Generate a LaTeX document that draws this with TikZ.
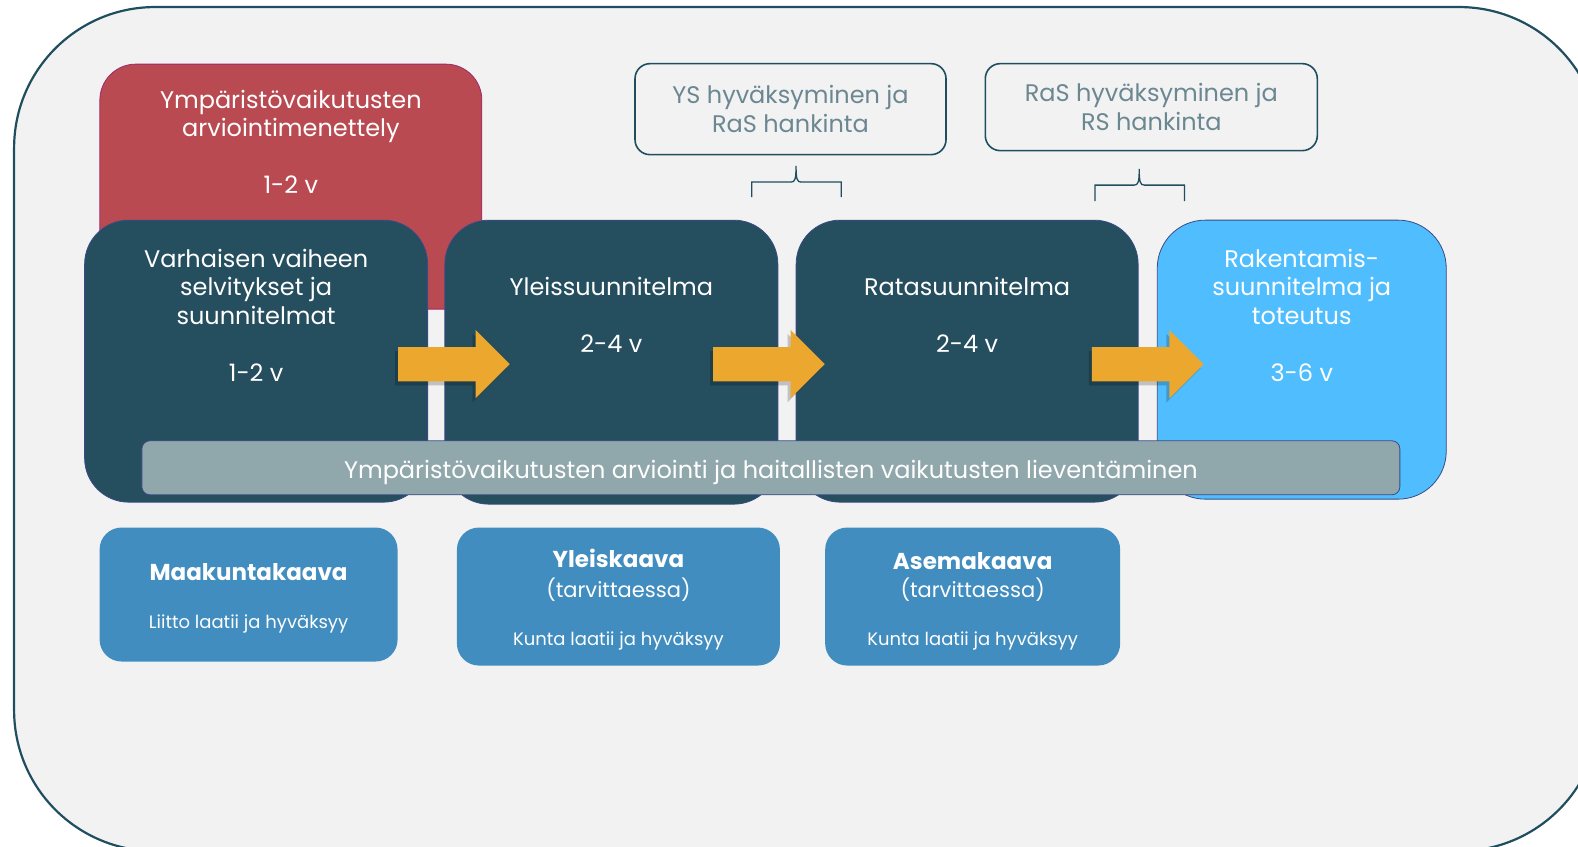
\documentclass[tikz,border=0pt]{standalone}
\usepackage{fontspec}
\setmainfont{Poppins}
\usepackage{tikz}
\usetikzlibrary{positioning}
\definecolor{bgfill}{HTML}{F2F2F2}
\definecolor{frameteal}{HTML}{1F4E5F}
\definecolor{phasedark}{HTML}{254E5E}
\definecolor{evared}{HTML}{B94A51}
\definecolor{evaedge}{HTML}{9C2A6E}
\definecolor{buildblue}{HTML}{50BEFE}
\definecolor{planblue}{HTML}{418DC0}
\definecolor{bargray}{HTML}{90A7AC}
\definecolor{arroworange}{HTML}{EBA72E}
\definecolor{notegray}{HTML}{6B8791}
\definecolor{edgenavy}{HTML}{3A4A86}

\begin{document}
\begin{tikzpicture}[x=1.0064pt, y=-1.006pt,
  phase/.style={draw=edgenavy, line width=0.8pt, fill=phasedark, rounded corners=44pt, inner sep=0pt},
  boxtext/.style={text=white, align=center, inner sep=0pt, font=\fontsize{24}{28.5}\selectfont},
  notebox/.style={draw=frameteal, line width=1.6pt, fill=bgfill, rounded corners=15pt, align=center,
    text=notegray, inner sep=0pt, font=\fontsize{24}{29}\selectfont},
  planbox/.style={fill=planblue, rounded corners=22pt, align=center, text=white, inner sep=0pt,
    font=\fontsize{21}{30}\selectfont},
  flowarrow/.style={fill=arroworange},
  bracket/.style={draw=frameteal, line width=1.3pt}]
\useasboundingbox (0,0) rectangle (1568,841);
\draw[frameteal, line width=2.2pt, fill=bgfill, rounded corners=141pt] (14,7) rectangle (1590,846);

\node[draw=evaedge, line width=0.8pt, fill=evared, rounded corners=36pt, minimum width=382pt, minimum height=245pt] (eva) at (289,185.5) {};
\node[boxtext, below=26pt of eva.north] (evat) {Ympäristövaikutusten\\arviointimenettely\\[28.5pt]1-2 v};

\node[phase, minimum width=343pt, minimum height=282pt] (early) at (254.5,359) {};
\node[phase, minimum width=333pt, minimum height=284pt] (ys) at (607.5,360) {};
\node[phase, minimum width=342pt, minimum height=282pt] (ras) at (961,359) {};
\node[phase, fill=buildblue, rounded corners=48pt, minimum width=289pt, minimum height=279pt] (rs) at (1293.5,357.5) {};

\node[boxtext, below=29pt of early.north] (earlyt) {Varhaisen vaiheen\\selvitykset ja\\suunnitelmat\\[28.5pt]1-2 v};
\node[boxtext, below=57pt of ys.north] (yst) {Yleissuunnitelma\\[28.5pt]2-4 v};
\node[boxtext, below=57pt of ras.north] (rast) {Ratasuunnitelma\\[28.5pt]2-4 v};
\node[boxtext, below=29pt of rs.north] (rst) {Rakentamis-\\suunnitelma ja\\toteutus\\[28.5pt]3-6 v};

\node[draw=edgenavy, line width=0.8pt, fill=bargray, rounded corners=8pt, minimum width=1258pt, minimum height=54pt,
  text=white, inner sep=0pt, text height=25pt, text depth=4pt, font=\fontsize{24}{29}\selectfont] (mitig) at (766,465)
  {Ympäristövaikutusten arviointi ja haitallisten vaikutusten lieventäminen};

\foreach \x in {395.5, 708.5, 1085} {
  \fill[black, opacity=0.2] (\x-3,349) -- ++(77,0) -- ++(0,-17) -- ++(34,34) -- ++(-34,34) -- ++(0,-17) -- ++(-77,0) -- cycle;
  \fill[flowarrow] (\x,345) -- ++(77,0) -- ++(0,-17) -- ++(34,34) -- ++(-34,34) -- ++(0,-17) -- ++(-77,0) -- cycle;
}

\node[notebox, minimum width=311pt, minimum height=91pt] (ysok) at (785.5,108.5) {YS hyväksyminen ja\\RaS hankinta};
\node[notebox, minimum width=332pt, minimum height=87pt] (rasok) at (1144,106.5) {RaS hyväksyminen ja\\RS hankinta};

\draw[bracket] (747,196) -- (747,181) -- (786,181) .. controls (790,181) and (791,178) .. (791,165)
  .. controls (791,178) and (792,181) .. (796,181) -- (836,181) -- (836,196);
\draw[bracket] (1088,200) -- (1088,184) -- (1127,184) .. controls (1131,184) and (1132,181) .. (1132,168)
  .. controls (1132,181) and (1133,184) .. (1137,184) -- (1177,184) -- (1177,200);

\node[planbox, minimum width=298pt, minimum height=134pt] (mkk) at (247,591)
  {{\bfseries\fontsize{23}{30}\selectfont\rule{0pt}{25pt}Maakuntakaava}\\[18pt]{\fontsize{18}{22}\selectfont Liitto laatii ja hyväksyy}};
\node[planbox, minimum width=323pt, minimum height=138pt] (yk) at (614.5,593)
  {{\bfseries\fontsize{23}{30}\selectfont\rule{0pt}{25pt}Yleiskaava}\\{\fontsize{21}{30}\selectfont (tarvittaessa)}\\[18pt]{\fontsize{18}{22}\selectfont Kunta laatii ja hyväksyy}};
\node[planbox, minimum width=295pt, minimum height=138pt] (ak) at (966.5,593)
  {{\bfseries\fontsize{23}{30}\selectfont\rule{0pt}{27pt}Asemakaava}\\[-2pt]{\fontsize{21}{30}\selectfont (tarvittaessa)}\\[18pt]{\fontsize{18}{22}\selectfont Kunta laatii ja hyväksyy}};
\end{tikzpicture}
\end{document}
